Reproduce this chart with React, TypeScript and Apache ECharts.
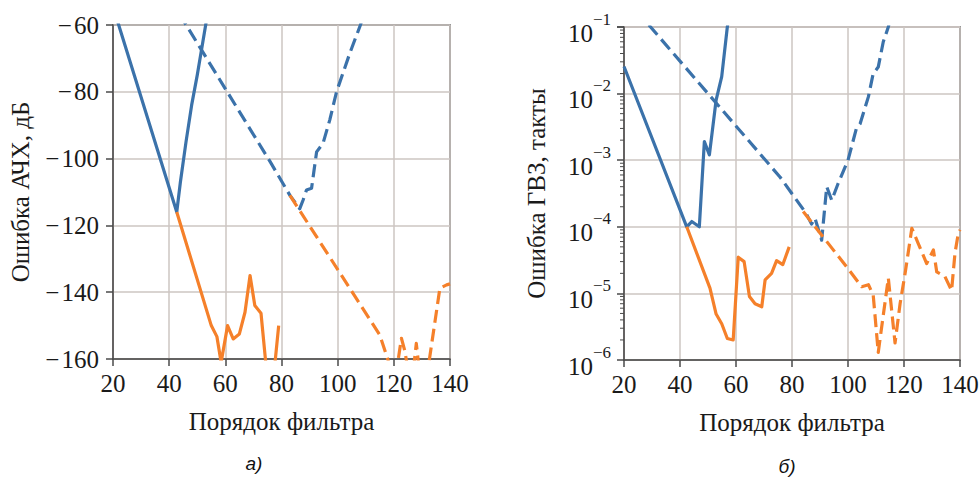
import React, { useEffect, useRef } from "react";
import * as echarts from "echarts";

// ---- (a) АЧХ error, dB ----
const ampBlueSolidX = [20, 42.7, 44, 46, 48, 50, 52, 54];
const ampBlueSolidY = [-54.5, -116, -107, -95, -84, -75, -65, -55];

const ampOrangeSolidX = [42.7, 55, 57, 58.5, 60.8, 62.8, 65, 67, 68.8, 70.5, 72.7, 74.5, 76, 77.7, 79];
const ampOrangeSolidY = [-116, -150, -153.3, -161, -150, -154, -152.5, -146, -135, -144, -146.3, -162, -170, -161, -150];

const ampBlueDashedX = [40, 76, 83, 86.5, 87.7, 88.9, 90.7, 92.5, 94.8, 97.2, 99.6, 104.3, 108.1, 110];
const ampBlueDashedY = [-51.7, -101, -111, -115, -112.4, -109.4, -108.9, -98, -95.4, -88.4, -80, -68.5, -60, -55];

const ampOrangeDashedX = [83, 115, 118, 120, 121.5, 122.7, 123.9, 125, 127, 128, 129, 131, 132.6, 136.4, 138.8, 140];
const ampOrangeDashedY = [-111, -152.8, -160.5, -168, -160.5, -153.8, -157.5, -163, -163, -155.3, -163, -168, -160.5, -138.8, -137.8, -137.5];

// ---- (б) group delay error, clocks ----
const gdBlueSolidX = [20, 42.4, 44.2, 46.9, 48.7, 50.5, 52.9, 54.9, 56.9, 58];
const gdBlueSolidY = [2.55e-2, 1.0e-4, 1.2e-4, 1.0e-4, 1.9e-3, 1.2e-3, 8e-3, 1.8e-2, 1.0e-1, 2e-1];

const gdOrangeSolidX = [42.4, 50.7, 52.9, 54.9, 56.9, 59, 60.8, 62.9, 64.8, 66.8, 69.2, 70.4, 72.7, 74.5, 76.7, 79];
const gdOrangeSolidY = [1.0e-4, 1.2e-5, 4.9e-6, 3.5e-6, 2.1e-6, 2.0e-6, 3.5e-5, 3.0e-5, 9e-6, 7e-6, 6.3e-6, 1.6e-5, 2.0e-5, 3.1e-5, 2.7e-5, 5.0e-5];

const gdBlueDashedX = [20, 75.7, 85, 87, 88.2, 90.6, 92.4, 94.2, 96.5, 100, 103, 104.3, 107.3, 109, 110.8, 112.6, 114.4, 116];
const gdBlueDashedY = [0.29, 5.6e-4, 1.6e-4, 1.1e-4, 1.35e-4, 6.3e-5, 4e-4, 2.5e-4, 4.5e-4, 1e-3, 3e-3, 3.5e-3, 9e-3, 2e-2, 2.5e-2, 6e-2, 1e-1, 0.2];

const gdOrangeDashedX = [84, 99.5, 104.9, 107.3, 109, 110.8, 114.4, 116.8, 118.6, 120.4, 122.8, 125.1, 128.1, 130.5, 131.7, 134.6, 137, 138.2, 139.4, 140];
const gdOrangeDashedY = [1.7e-4, 2.5e-5, 1.26e-5, 1.35e-5, 9.5e-6, 1.3e-6, 1.7e-5, 1.8e-6, 7e-6, 2e-5, 9.5e-5, 5.6e-5, 2.8e-5, 4.5e-5, 2.1e-5, 1.8e-5, 1.1e-5, 4e-5, 8e-5, 9e-5];

// ---- tick labels ----
const xTickValues = [20, 40, 60, 80, 100, 120, 140];
const ampTickValues = [-160, -140, -120, -100, -80, -60];
const gdTickValues = [1e-6, 1e-5, 1e-4, 1e-3, 1e-2, 1e-1];
const gdMinorTicks = [
  2e-6, 3e-6, 4e-6, 5e-6, 6e-6, 7e-6, 8e-6, 9e-6,
  2e-5, 3e-5, 4e-5, 5e-5, 6e-5, 7e-5, 8e-5, 9e-5,
  2e-4, 3e-4, 4e-4, 5e-4, 6e-4, 7e-4, 8e-4, 9e-4,
  2e-3, 3e-3, 4e-3, 5e-3, 6e-3, 7e-3, 8e-3, 9e-3,
  2e-2, 3e-2, 4e-2, 5e-2, 6e-2, 7e-2, 8e-2, 9e-2,
];

const xTitle = "Порядок фильтра";
const ampTitle = "Ошибка АЧХ, дБ";
const gdTitle = "Ошибка ГВЗ, такты";
const captions = ["а)", "б)"];

const BLUE = "#3b72aa";
const ORANGE = "#f5802a";
const SERIF = "'Liberation Serif', 'Times New Roman', serif";
const AXIS = "#4a4a4a";
const GRIDC = "#cdc6c2";
const TXT = "#1a1a1a";
const DASH = [13, 6];
const TICKFONT = "25px " + SERIF;

const zip = (xs: number[], ys: number[]) => xs.map((x, i) => [x, ys[i]]);

function xAxisCfg(gridIndex: number) {
  return {
    type: "value",
    gridIndex,
    min: 20,
    max: 140,
    interval: 20,
    name: xTitle,
    nameLocation: "middle",
    nameGap: 50,
    nameTextStyle: { fontFamily: SERIF, fontSize: 25, color: TXT },
    axisLine: { show: true, onZero: false, lineStyle: { color: AXIS, width: 1.5 } },
    axisTick: { show: true, length: 7, lineStyle: { color: AXIS, width: 1.5 } },
    axisLabel: { show: false },
    splitLine: { show: true, lineStyle: { color: GRIDC, width: 1.5 } },
  };
}

function lineSeries(data: number[][], color: string, dashed: boolean, idx: number) {
  return {
    type: "line",
    xAxisIndex: idx,
    yAxisIndex: idx,
    data,
    showSymbol: false,
    symbol: "none",
    clip: true,
    lineStyle: { color, width: 3.2, type: dashed ? DASH : "solid", cap: "butt", join: "round" },
    silent: true,
  };
}

function xLabelSeries(idx: number, yBottom: number) {
  return {
    type: "custom",
    xAxisIndex: idx,
    yAxisIndex: idx,
    clip: false,
    silent: true,
    data: xTickValues.map((v) => [v, yBottom]),
    renderItem: (_p: any, api: any) => {
      const pt = api.coord([api.value(0), api.value(1)]);
      return {
        type: "text",
        x: pt[0],
        y: pt[1] + 12,
        style: { text: String(api.value(0)), font: TICKFONT, fill: TXT, align: "center", verticalAlign: "top" },
      };
    },
  };
}

export default function App() {
  const ref = useRef<HTMLDivElement>(null);
  useEffect(() => {
    if (!ref.current) return;
    const chart = echarts.init(ref.current, undefined, { renderer: "svg" });
    const option: any = {
      animation: false,
      backgroundColor: "#ffffff",
      grid: [
        { left: 113, top: 25, width: 337, height: 334, show: true, borderColor: AXIS, borderWidth: 1.5, backgroundColor: "transparent" },
        { left: 624, top: 27, width: 336, height: 333, show: true, borderColor: AXIS, borderWidth: 1.5, backgroundColor: "transparent" },
      ],
      xAxis: [xAxisCfg(0), xAxisCfg(1)],
      yAxis: [
        {
          type: "value",
          gridIndex: 0,
          min: -160,
          max: -60,
          interval: 20,
          name: ampTitle,
          nameLocation: "middle",
          nameGap: 80,
          nameTextStyle: { fontFamily: SERIF, fontSize: 25, color: TXT },
          axisLine: { show: true, onZero: false, lineStyle: { color: AXIS, width: 1.5 } },
          axisTick: { show: true, length: 7, lineStyle: { color: AXIS, width: 1.5 } },
          axisLabel: { show: false },
          splitLine: { show: true, lineStyle: { color: GRIDC, width: 1.5 } },
        },
        {
          type: "log",
          logBase: 10,
          gridIndex: 1,
          min: 1e-6,
          max: 1e-1,
          name: gdTitle,
          nameLocation: "middle",
          nameGap: 75,
          nameTextStyle: { fontFamily: SERIF, fontSize: 25, color: TXT },
          axisLine: { show: true, onZero: false, lineStyle: { color: AXIS, width: 1.5 } },
          axisTick: { show: true, length: 7, lineStyle: { color: AXIS, width: 1.5 } },
          axisLabel: { show: false },
          splitLine: { show: true, lineStyle: { color: GRIDC, width: 1.5 } },
        },
      ],
      series: [
        lineSeries(zip(ampBlueSolidX, ampBlueSolidY), BLUE, false, 0),
        lineSeries(zip(ampBlueDashedX, ampBlueDashedY), BLUE, true, 0),
        lineSeries(zip(ampOrangeSolidX, ampOrangeSolidY), ORANGE, false, 0),
        lineSeries(zip(ampOrangeDashedX, ampOrangeDashedY), ORANGE, true, 0),
        lineSeries(zip(gdBlueSolidX, gdBlueSolidY), BLUE, false, 1),
        lineSeries(zip(gdBlueDashedX, gdBlueDashedY), BLUE, true, 1),
        lineSeries(zip(gdOrangeSolidX, gdOrangeSolidY), ORANGE, false, 1),
        lineSeries(zip(gdOrangeDashedX, gdOrangeDashedY), ORANGE, true, 1),
        xLabelSeries(0, -160),
        xLabelSeries(1, 1e-6),
        {
          type: "custom",
          xAxisIndex: 0,
          yAxisIndex: 0,
          clip: false,
          silent: true,
          data: ampTickValues.map((v) => [20, v]),
          renderItem: (_p: any, api: any) => {
            const pt = api.coord([api.value(0), api.value(1)]);
            return {
              type: "text",
              x: pt[0] - 14,
              y: pt[1],
              style: {
                text: String(api.value(1)).replace("-", "\u2212\u200a"),
                font: TICKFONT,
                fill: TXT,
                align: "right",
                verticalAlign: "middle",
              },
            };
          },
        },
        {
          type: "custom",
          xAxisIndex: 1,
          yAxisIndex: 1,
          clip: false,
          silent: true,
          data: gdTickValues.map((v) => [20, v]),
          renderItem: (_p: any, api: any) => {
            const v = api.value(1);
            const pt = api.coord([api.value(0), v]);
            const e = Math.round(Math.log10(v));
            return {
              type: "group",
              children: [
                {
                  type: "text",
                  x: pt[0] - 31,
                  y: pt[1] + 6,
                  style: { text: "10", font: TICKFONT, fill: TXT, align: "right", verticalAlign: "middle" },
                },
                {
                  type: "text",
                  x: pt[0] - 31,
                  y: pt[1] - 8,
                  style: { text: "\u2212" + String(-e), font: "17px " + SERIF, fill: TXT, align: "left", verticalAlign: "middle" },
                },
              ],
            };
          },
        },
        {
          type: "custom",
          xAxisIndex: 1,
          yAxisIndex: 1,
          clip: false,
          silent: true,
          data: gdMinorTicks.map((v) => [20, v]),
          renderItem: (_p: any, api: any) => {
            const pt = api.coord([api.value(0), api.value(1)]);
            return {
              type: "line",
              shape: { x1: pt[0] - 4, y1: pt[1], x2: pt[0], y2: pt[1] },
              style: { stroke: AXIS, lineWidth: 1 },
            };
          },
        },
      ],
      graphic: [
        {
          type: "text",
          x: 254,
          y: 463,
          style: { text: captions[0], font: "italic 19px 'Liberation Sans', Arial, sans-serif", fill: "#111", textAlign: "center", textVerticalAlign: "middle" },
        },
        {
          type: "text",
          x: 787,
          y: 466,
          style: { text: captions[1], font: "italic 19px 'Liberation Sans', Arial, sans-serif", fill: "#111", textAlign: "center", textVerticalAlign: "middle" },
        },
      ],
    };
    chart.setOption(option);
    return () => chart.dispose();
  }, []);
  return (
    <div
      ref={ref}
      style={{ position: "fixed", left: 0, top: 0, width: 980, height: 478, background: "#fff" }}
    />
  );
}
